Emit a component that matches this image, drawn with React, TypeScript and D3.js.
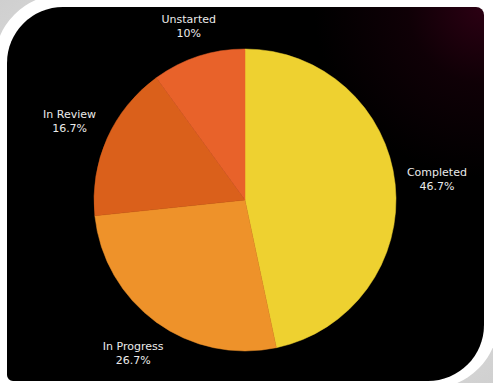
import React, { useEffect, useRef } from "react";
import * as d3 from "d3";

const categories = ["Completed", "In Progress", "In Review", "Unstarted"];
const counts = [14, 8, 5, 3];
const percentLabels = ["46.7%", "26.7%", "16.7%", "10%"];
const sliceColors = ["#eed130", "#ee922a", "#da601b", "#e8622a"];

const W = 493;
const H = 383;

export default function App() {
  const ref = useRef<SVGSVGElement | null>(null);

  useEffect(() => {
    const svg = d3.select(ref.current);
    svg.selectAll("*").remove();

    const defs = svg.append("defs");
    const bgGrad = defs.append("linearGradient").attr("id", "shadow").attr("x1", "0").attr("y1", "0").attr("x2", "1").attr("y2", "1");
    bgGrad.append("stop").attr("offset", "0").attr("stop-color", "#cfcfcf");
    bgGrad.append("stop").attr("offset", "0.5").attr("stop-color", "#f4f4f4");
    bgGrad.append("stop").attr("offset", "1").attr("stop-color", "#d0d0d0");

    const rg = defs.append("radialGradient").attr("id", "glow")
      .attr("gradientUnits", "userSpaceOnUse")
      .attr("cx", 484).attr("cy", 7).attr("r", 170);
    rg.append("stop").attr("offset", "0").attr("stop-color", "#2c0013");
    rg.append("stop").attr("offset", "0.45").attr("stop-color", "#0f0006");
    rg.append("stop").attr("offset", "1").attr("stop-color", "#000000");

    svg.append("rect").attr("width", W).attr("height", H).attr("fill", "url(#shadow)");

    const roundedPath = (x0: number, y0: number, x1: number, y1: number, tl: number, tr: number, br: number, bl: number) => {
      const p = d3.path();
      p.moveTo(x0 + tl, y0);
      p.lineTo(x1 - tr, y0);
      p.arcTo(x1, y0, x1, y0 + tr, tr);
      p.lineTo(x1, y1 - br);
      p.arcTo(x1, y1, x1 - br, y1, br);
      p.lineTo(x0 + bl, y1);
      p.arcTo(x0, y1, x0, y1 - bl, bl);
      p.lineTo(x0, y0 + tl);
      p.arcTo(x0, y0, x0 + tl, y0, tl);
      p.closePath();
      return p.toString();
    };

    svg.append("path")
      .attr("d", roundedPath(-6, -6, W + 6, H + 6, 70, 0, 70, 0))
      .attr("fill", "#ffffff");

    svg.append("path")
      .attr("d", roundedPath(7, 7, 484, 381, 56, 8, 56, 6))
      .attr("fill", "url(#glow)");

    const cx = 245;
    const cy = 200;
    const r = 151;

    const pie = d3.pie<number>().sort(null).value((d) => d);
    const arcs = pie(counts);
    const arc = d3.arc<d3.PieArcDatum<number>>().innerRadius(0).outerRadius(r);

    const g = svg.append("g").attr("transform", `translate(${cx},${cy})`);
    g.selectAll("path.slice")
      .data(arcs)
      .join("path")
      .attr("class", "slice")
      .attr("d", arc)
      .attr("fill", (_d, i) => sliceColors[i])
      .attr("stroke", (_d, i) => sliceColors[i])
      .attr("stroke-width", 0.5);

    const gap = 11;
    const target = r + gap;
    arcs.forEach((a, i) => {
      const mid = (a.startAngle + a.endAngle) / 2;
      const dx = Math.sin(mid);
      const dy = -Math.cos(mid);
      const t = g.append("text")
        .attr("font-family", "'DejaVu Sans', sans-serif")
        .attr("font-size", 11)
        .attr("fill", "#ebebeb")
        .attr("text-anchor", "middle");
      t.append("tspan").attr("x", 0).attr("y", 0).text(categories[i]);
      t.append("tspan").attr("x", 0).attr("dy", 14).text(percentLabels[i]);
      const bb = (t.node() as SVGTextElement).getBBox();
      const bw = bb.width;
      const bh = bb.height;
      let d = 0;
      for (let s = 0; s < 400; s += 0.5) {
        const bx = dx * s;
        const by = dy * s;
        const nx = Math.max(bx - bw / 2, Math.min(0, bx + bw / 2));
        const ny = Math.max(by - bh / 2, Math.min(0, by + bh / 2));
        if (Math.hypot(nx, ny) >= target) { d = s; break; }
      }
      const bx = dx * d;
      const by = dy * d;
      const ox = bx - (bb.x + bw / 2);
      const oy = by - (bb.y + bh / 2);
      t.attr("transform", `translate(${ox},${oy})`);
    });
  }, []);

  return (
    <svg
      ref={ref}
      width={W}
      height={H}
      style={{ position: "absolute", left: 0, top: 0, display: "block" }}
    />
  );
}
